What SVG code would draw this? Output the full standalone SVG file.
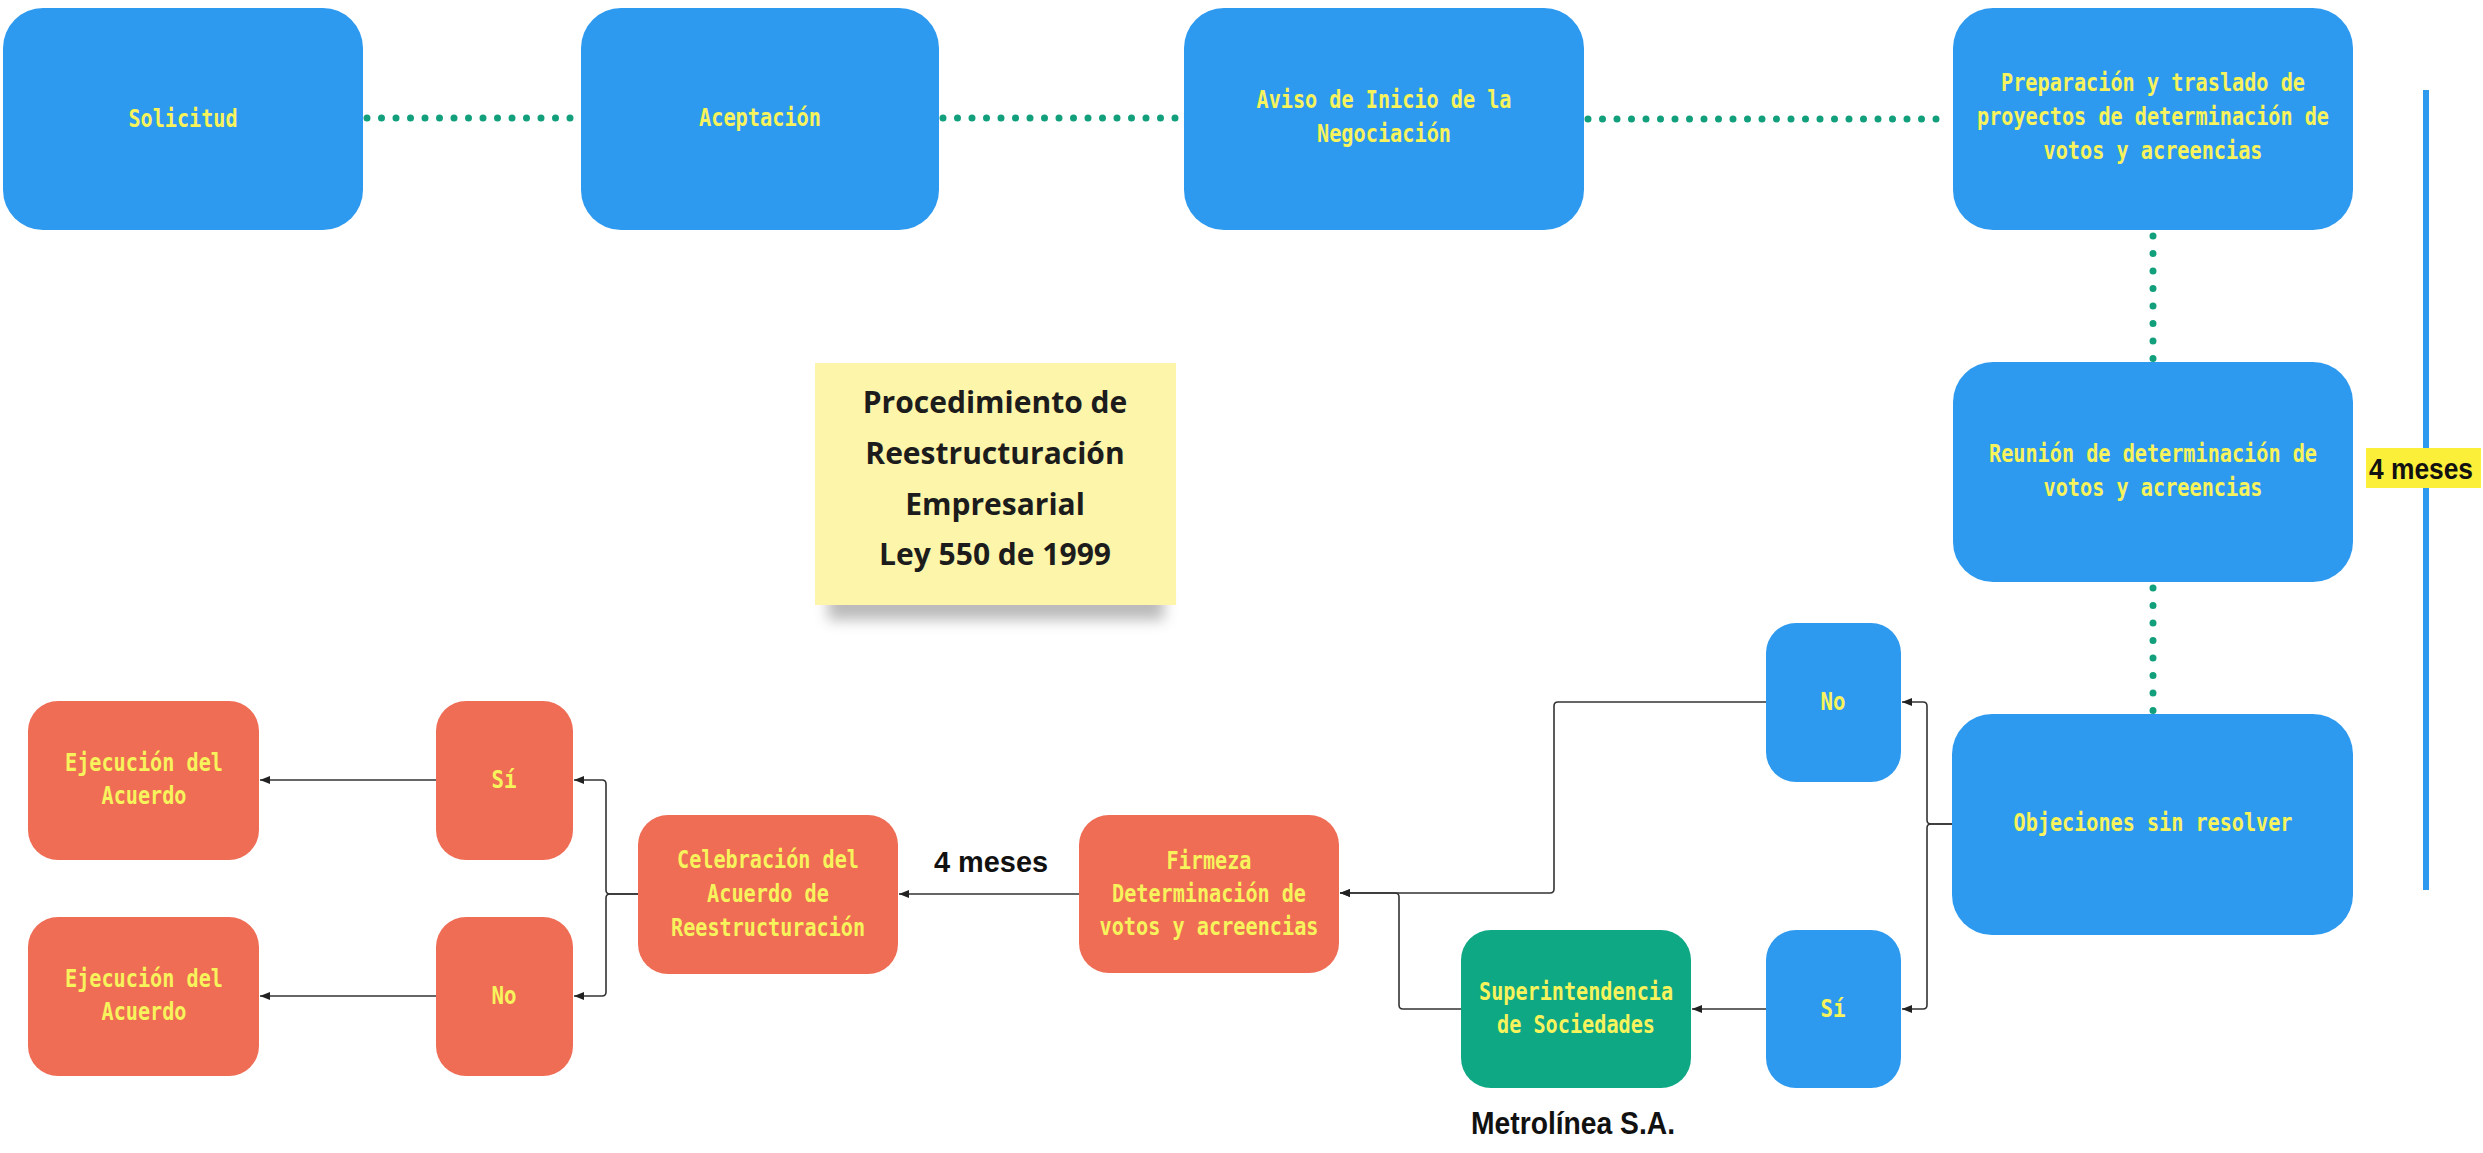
<svg xmlns="http://www.w3.org/2000/svg" width="2483" height="1153" viewBox="0 0 2483 1153">
<style>
.blue{fill:#2e9aef}
.orange{fill:#ef6c55}
.green{fill:#0ea884}
.nt{font-family:"DejaVu Sans Mono","Liberation Mono",monospace;font-weight:bold;font-size:24px;fill:#f7f35c;text-anchor:middle}
.dot{fill:none;stroke:#12a07c;stroke-width:7;stroke-linecap:round}
.con{fill:none;stroke:#333;stroke-width:1.6}
.lbl{font-family:"Liberation Sans",Arial,sans-serif;font-weight:bold;fill:#111;text-anchor:middle}
.note{font-family:"Open Sans","Noto Sans",sans-serif;font-weight:bold;font-size:30px;fill:#1c1c1c;text-anchor:middle}
</style>
<defs>
<marker id="ah" markerUnits="userSpaceOnUse" markerWidth="10" markerHeight="8" refX="10" refY="4" orient="auto">
<path d="M0,0 L10,4 L0,8 z" fill="#222"/>
</marker>
<filter id="blur" x="-20%" y="-50%" width="140%" height="200%">
<feGaussianBlur stdDeviation="7"/>
</filter>
</defs>
<rect width="2483" height="1153" fill="#fff"/>

<g id="dotted">
<path class="dot" d="M367,118 H578" stroke-dasharray="0 14.5"/>
<path class="dot" d="M943,118 H1181" stroke-dasharray="0 14.5"/>
<path class="dot" d="M1588,119 H1950" stroke-dasharray="0 14.5"/>
<path class="dot" d="M2153,236 V360" stroke-dasharray="0 17.5"/>
<path class="dot" d="M2153,588 V712" stroke-dasharray="0 17.5"/>
</g>

<g id="connectors">
<path class="con" d="M1766,702 H1558 Q1554,702 1554,706 V889 Q1554,893 1550,893 H1340" marker-end="url(#ah)"/>
<path class="con" d="M1461,1009 H1403 Q1399,1009 1399,1005 V897 Q1399,893 1395,893 H1340" marker-end="url(#ah)"/>
<path class="con" d="M1766,1009 H1692" marker-end="url(#ah)"/>
<path class="con" d="M1952,824 H1931 Q1927,824 1927,820 V706 Q1927,702 1923,702 H1902" marker-end="url(#ah)"/>
<path class="con" d="M1952,824 H1931 Q1927,824 1927,828 V1005 Q1927,1009 1923,1009 H1902" marker-end="url(#ah)"/>
<path class="con" d="M1079,894 H899" marker-end="url(#ah)"/>
<path class="con" d="M638,894 H610 Q606,894 606,890 V784 Q606,780 602,780 H574" marker-end="url(#ah)"/>
<path class="con" d="M638,894 H610 Q606,894 606,898 V992 Q606,996 602,996 H574" marker-end="url(#ah)"/>
<path class="con" d="M436,780 H260" marker-end="url(#ah)"/>
<path class="con" d="M436,996 H260" marker-end="url(#ah)"/>
</g>

<g id="solicitud">
<rect class="blue" x="3" y="8" width="360" height="222" rx="40"/>
<text class="nt" x="183" y="127" textLength="109" lengthAdjust="spacingAndGlyphs">Solicitud</text>
</g>
<g id="aceptacion">
<rect class="blue" x="581" y="8" width="358" height="222" rx="40"/>
<text class="nt" x="760" y="126" textLength="122" lengthAdjust="spacingAndGlyphs">Aceptación</text>
</g>
<g id="aviso">
<rect class="blue" x="1184" y="8" width="400" height="222" rx="40"/>
<text class="nt" x="1384" y="108" textLength="255" lengthAdjust="spacingAndGlyphs">Aviso de Inicio de la</text>
<text class="nt" x="1384" y="142" textLength="134" lengthAdjust="spacingAndGlyphs">Negociación</text>
</g>
<g id="preparacion">
<rect class="blue" x="1953" y="8" width="400" height="222" rx="40"/>
<text class="nt" x="2153" y="91" textLength="304" lengthAdjust="spacingAndGlyphs">Preparación y traslado de</text>
<text class="nt" x="2153" y="125" textLength="352" lengthAdjust="spacingAndGlyphs">proyectos de determinación de</text>
<text class="nt" x="2153" y="159" textLength="219" lengthAdjust="spacingAndGlyphs">votos y acreencias</text>
</g>
<g id="reunion">
<rect class="blue" x="1953" y="362" width="400" height="220" rx="40"/>
<text class="nt" x="2153" y="462" textLength="328" lengthAdjust="spacingAndGlyphs">Reunión de determinación de</text>
<text class="nt" x="2153" y="496" textLength="219" lengthAdjust="spacingAndGlyphs">votos y acreencias</text>
</g>
<g id="objeciones">
<rect class="blue" x="1952" y="714" width="401" height="221" rx="40"/>
<text class="nt" x="2153" y="831" textLength="279" lengthAdjust="spacingAndGlyphs">Objeciones sin resolver</text>
</g>
<g id="no-azul">
<rect class="blue" x="1766" y="623" width="135" height="159" rx="30"/>
<text class="nt" x="1833" y="710" textLength="25" lengthAdjust="spacingAndGlyphs">No</text>
</g>
<g id="si-azul">
<rect class="blue" x="1766" y="930" width="135" height="158" rx="30"/>
<text class="nt" x="1833" y="1017" textLength="25" lengthAdjust="spacingAndGlyphs">Sí</text>
</g>
<g id="superintendencia">
<rect class="green" x="1461" y="930" width="230" height="158" rx="30"/>
<text class="nt" x="1576" y="1000" textLength="194" lengthAdjust="spacingAndGlyphs">Superintendencia</text>
<text class="nt" x="1576" y="1033" textLength="158" lengthAdjust="spacingAndGlyphs">de Sociedades</text>
</g>
<g id="firmeza">
<rect class="orange" x="1079" y="815" width="260" height="158" rx="30"/>
<text class="nt" x="1209" y="869" textLength="85" lengthAdjust="spacingAndGlyphs">Firmeza</text>
<text class="nt" x="1209" y="902" textLength="194" lengthAdjust="spacingAndGlyphs">Determinación de</text>
<text class="nt" x="1209" y="935" textLength="219" lengthAdjust="spacingAndGlyphs">votos y acreencias</text>
</g>
<g id="celebracion">
<rect class="orange" x="638" y="815" width="260" height="159" rx="30"/>
<text class="nt" x="768" y="868" textLength="182" lengthAdjust="spacingAndGlyphs">Celebración del</text>
<text class="nt" x="768" y="902" textLength="122" lengthAdjust="spacingAndGlyphs">Acuerdo de</text>
<text class="nt" x="768" y="936" textLength="194" lengthAdjust="spacingAndGlyphs">Reestructuración</text>
</g>
<g id="si-naranja">
<rect class="orange" x="436" y="701" width="137" height="159" rx="30"/>
<text class="nt" x="504" y="788" textLength="25" lengthAdjust="spacingAndGlyphs">Sí</text>
</g>
<g id="no-naranja">
<rect class="orange" x="436" y="917" width="137" height="159" rx="30"/>
<text class="nt" x="504" y="1004" textLength="25" lengthAdjust="spacingAndGlyphs">No</text>
</g>
<g id="ejecucion-1">
<rect class="orange" x="28" y="701" width="231" height="159" rx="30"/>
<text class="nt" x="144" y="771" textLength="158" lengthAdjust="spacingAndGlyphs">Ejecución del</text>
<text class="nt" x="144" y="804" textLength="85" lengthAdjust="spacingAndGlyphs">Acuerdo</text>
</g>
<g id="ejecucion-2">
<rect class="orange" x="28" y="917" width="231" height="159" rx="30"/>
<text class="nt" x="144" y="987" textLength="158" lengthAdjust="spacingAndGlyphs">Ejecución del</text>
<text class="nt" x="144" y="1020" textLength="85" lengthAdjust="spacingAndGlyphs">Acuerdo</text>
</g>

<g id="nota">
<rect x="828" y="590" width="336" height="30" fill="#777" opacity="0.5" filter="url(#blur)"/>
<rect x="815" y="363" width="361" height="242" fill="#fdf5aa"/>
<text class="note" x="995" y="413">Procedimiento de</text>
<text class="note" x="995" y="464">Reestructuración</text>
<text class="note" x="995" y="515">Empresarial</text>
<text class="note" x="995" y="565">Ley 550 de 1999</text>
</g>

<g id="plazo">
<rect x="2423" y="90" width="6" height="800" fill="#2e9aef"/>
<rect x="2366" y="448" width="115" height="40" fill="#fbef3a"/>
<text class="lbl" x="2421" y="479" font-size="29" textLength="104" lengthAdjust="spacingAndGlyphs">4 meses</text>
</g>
<g id="plazo-2">
<text class="lbl" x="991" y="872" font-size="30" textLength="114" lengthAdjust="spacingAndGlyphs">4 meses</text>
</g>
<g id="empresa">
<text class="lbl" x="1573" y="1134" font-size="32" textLength="204" lengthAdjust="spacingAndGlyphs">Metrolínea S.A.</text>
</g>
</svg>
